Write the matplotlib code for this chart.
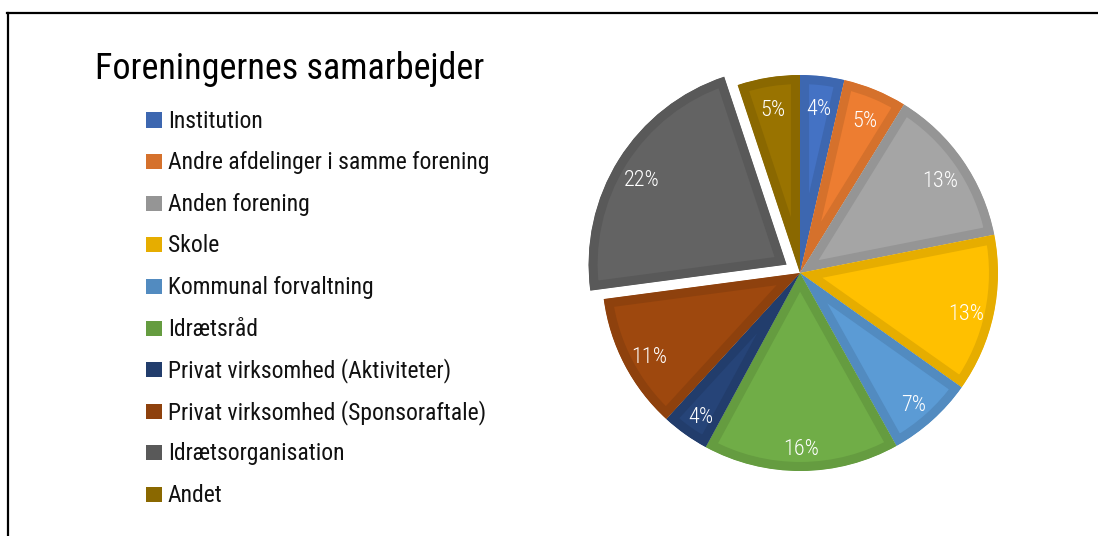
import matplotlib
matplotlib.use('Agg')
import matplotlib.pyplot as plt
from matplotlib.patches import Rectangle

plt.rcParams['font.family'] = ['Roboto Condensed', 'DejaVu Sans']

title = 'Foreningernes samarbejder'
categories = ['Institution', 'Andre afdelinger i samme forening', 'Anden forening', 'Skole',
              'Kommunal forvaltning', 'Idrætsråd', 'Privat virksomhed (Aktiviteter)',
              'Privat virksomhed (Sponsoraftale)', 'Idrætsorganisation', 'Andet']
shares = [3.6, 5.2, 13.1, 12.9, 7.1, 16.0, 3.9, 11.1, 22.0, 5.1]
fills = ['#4472C4', '#ED7D31', '#A5A5A5', '#FFC000', '#5B9BD5',
         '#70AD47', '#264478', '#9E480E', '#636363', '#997300']
explode = [0, 0, 0, 0, 0, 0, 0, 0, 0.08, 0]

W, H = 1098, 536
fig = plt.figure(figsize=(W / 100, H / 100), dpi=100)


# darker edge colour, also used for the legend keys
def darker(c, f=0.9):
    r, g, b = matplotlib.colors.to_rgb(c)
    return (r * f, g * f, b * f)


edges = [darker(c) for c in fills]

# pie axes: centre (800, 273) px, radius ~198 px
cx, cy, r = 800, 273, 198
L = 1.2
side = 2 * L * r
ax = fig.add_axes([(cx - side / 2) / W, (H - cy - side / 2) / H, side / W, side / H])
wedges, texts, autotexts = ax.pie(shares, colors=fills, startangle=90, counterclock=False,
                                  explode=explode, autopct='%.0f%%', pctdistance=0.86,
                                  textprops=dict(color='white', fontsize=16, fontweight='light'))
# thick darker border drawn only on the inside of each slice
for w, ec in zip(wedges, edges):
    w.set_edgecolor(ec)
    w.set_linewidth(13)
    w.set_joinstyle('round')
    w.set_clip_path(w)
    w.set_clip_on(True)
# excel sits the labels a little lower than matplotlib does
for t in autotexts:
    x, y = t.get_position()
    t.set_position((x, y - 0.03))
ax.set_xlim(-L, L)
ax.set_ylim(-L, L)
ax.set_aspect('equal')
ax.axis('off')

# title
fig.text(95 / W, 1 - 79 / H, title, fontsize=26, color='black', va='baseline')

# legend
y0, dy = 120, 41.6
for i, (lab, ec) in enumerate(zip(categories, edges)):
    yc = y0 + i * dy
    fig.patches.append(Rectangle((146 / W, 1 - (yc + 7.5) / H), 16 / W, 15 / H,
                                 transform=fig.transFigure, facecolor=ec, edgecolor='none'))
    fig.text(168 / W, 1 - (yc + 1) / H, lab, fontsize=17, color='#111111', va='center')

# frame lines (top and left)
fig.add_artist(plt.Line2D([7 / W, 1], [1 - 12.5 / H, 1 - 12.5 / H], color='black', lw=1.6,
                          transform=fig.transFigure))
fig.add_artist(plt.Line2D([8 / W, 8 / W], [0, 1 - 12.5 / H], color='black', lw=1.6,
                          transform=fig.transFigure))

fig.savefig('out.png', dpi=100)
